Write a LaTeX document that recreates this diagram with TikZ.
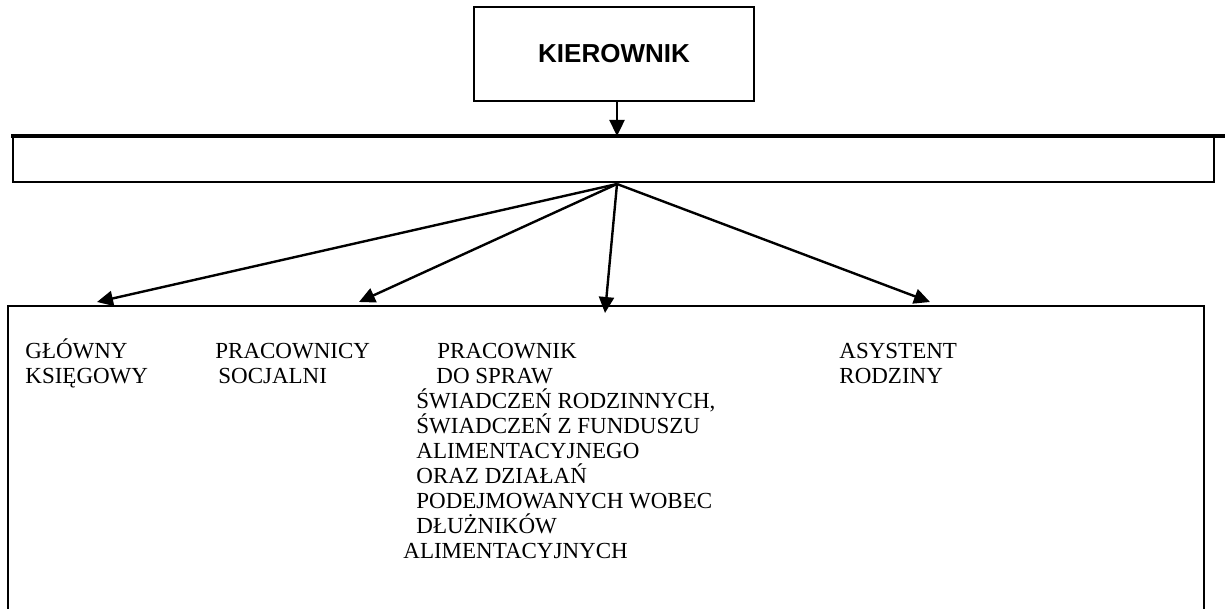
\documentclass[tikz,border=0pt]{standalone}
\usepackage{fontspec}
\setmainfont{Liberation Serif}
\newfontfamily\headfont{Liberation Sans}
\usetikzlibrary{arrows.meta, positioning}
\tikzset{%
    % Boxes of the chart
    block/.style = {draw, line width=1pt, rectangle, inner sep=0pt},
    % Connectors
    link/.style  = {line width=1.2pt, -{Triangle[length=8pt,width=7.5pt]}},
    % Labels of the posts
    post/.style  = {anchor=base west, inner sep=0pt,
    font=\fontsize{11.5}{12.5}\selectfont},
    head/.style  = {font=\headfont\bfseries\fontsize{13}{15}\selectfont}
}

\begin{document}
\begin{tikzpicture}[x=0.5pt, y=-0.5pt]
	\useasboundingbox (0,0) rectangle (1225,609);
	\node[block, head, minimum width=140pt, minimum height=47pt] (kier) at (614,54) {KIEROWNIK};
	\node[block, minimum width=600.6pt, minimum height=22.5pt] (bar) at (613.4,159.5) {};
	\node[block, minimum width=597.9pt, minimum height=172pt] (staff) at (606.2,478) {};
	\draw[line width=1.75pt] (11,136) -- (1225,136);
	
	\coordinate (hub) at (617,184);
	\coordinate (t1) at (97,302);
	\coordinate (t2) at (359,302);
	\coordinate (t3) at (605,313);
	\coordinate (t4) at (930,302);
	\draw[link] (kier.south -| hub) -- (hub |- bar.north);
	\foreach \t in {t1,t2,t3,t4}
		\draw[link] (hub) -- (\t);
	
	\node[post] (gl1) at (25,358) {GŁÓWNY};
	\node[post] (gl2) at (25,383) {KSIĘGOWY};
	\node[post] (ps1) at (215,358) {PRACOWNICY};
	\node[post] (ps2) at (218,383) {SOCJALNI};
	\node[post] (pr1) at (437,358) {PRACOWNIK};
	\node[post] (pr2) at (436,383) {DO SPRAW};
	\node[post] (pr3) at (416,408) {ŚWIADCZEŃ RODZINNYCH,};
	\node[post] (pr4) at (416,433) {ŚWIADCZEŃ Z FUNDUSZU};
	\node[post] (pr5) at (416,458) {ALIMENTACYJNEGO};
	\node[post] (pr6) at (416,483) {ORAZ DZIAŁAŃ};
	\node[post] (pr7) at (416,508) {PODEJMOWANYCH WOBEC};
	\node[post] (pr8) at (416,533) {DŁUŻNIKÓW};
	\node[post] (pr9) at (403,558) {ALIMENTACYJNYCH};
	\node[post] (as1) at (839,358) {ASYSTENT};
	\node[post] (as2) at (839,383) {RODZINY};
\end{tikzpicture}
\end{document}
